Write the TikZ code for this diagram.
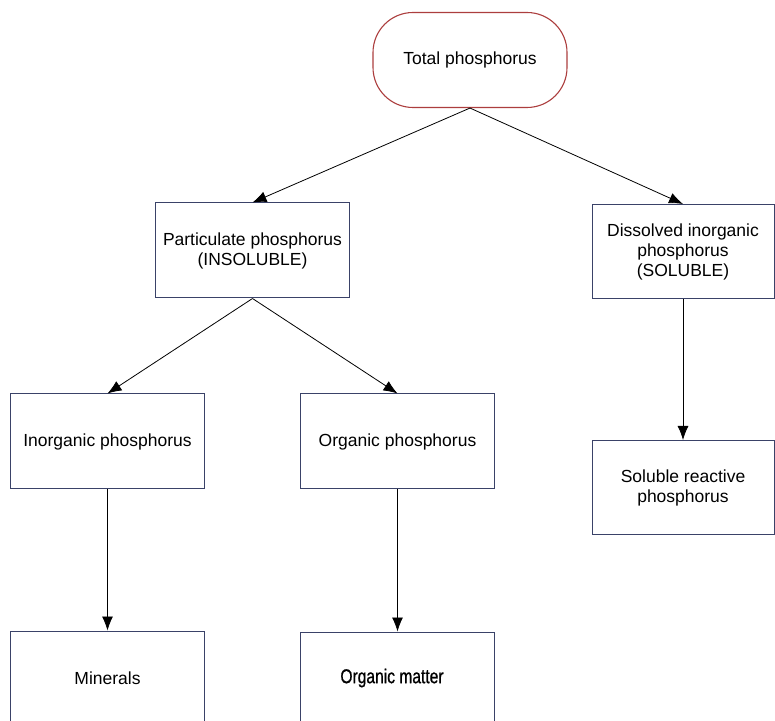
\documentclass[tikz,border=0pt]{standalone}
\usepackage{fontspec}
\setmainfont{Liberation Sans}
\newfontfamily\condfont{Liberation Sans}[FakeStretch=0.78,FakeBold=0.8]
\usetikzlibrary{arrows.meta}
\definecolor{boxline}{RGB}{58,66,104}
\definecolor{redline}{RGB}{172,62,62}
\begin{document}
\begin{tikzpicture}[x=1pt,y=1pt,
  every node/.style={font=\fontsize{17.5}{20}\selectfont, align=center, inner sep=0pt},
  pbox/.style={draw=boxline, line width=1pt, fill=white, minimum width=194pt, minimum height=95pt},
  rbox/.style={draw=boxline, line width=1pt, fill=white, minimum width=182pt, minimum height=94pt},
  startbox/.style={draw=redline, line width=1.1pt, fill=white, rounded corners=40pt, minimum width=194pt, minimum height=95pt},
  conn/.style={draw=black, line width=0.8pt, -{Latex[length=14pt,width=11pt]}}]
\useasboundingbox (0,0) rectangle (775,720);
\begin{scope}
\clip (0,0) rectangle (775,720);
\node[startbox] (total) at (470,660) {Total phosphorus};
\node[pbox] (part) at (252.5,469.5) {Particulate phosphorus\\(INSOLUBLE)};
\node[rbox] (diss) at (683,468.5) {Dissolved inorganic\\phosphorus\\(SOLUBLE)};
\node[pbox] (inorg) at (107.5,278.5) {Inorganic phosphorus};
\node[pbox] (org) at (397.5,278.5) {Organic phosphorus};
\node[rbox] (sol) at (683,232.5) {Soluble reactive\\phosphorus};
\node[pbox] (min) at (107.5,41.5) {Minerals};
\node[pbox] (orgm) at (397.5,40.5) {};
\node[font={\condfont\fontsize{20}{22}\selectfont}] (orgmt) at (392,42) {Organic matter};
\draw[conn] (total.south) -- (part.north);
\draw[conn] (total.south) -- (diss.north);
\draw[conn] (part.south) -- (inorg.north);
\draw[conn] (part.south) -- (org.north);
\draw[conn] (diss.south) -- (sol.north);
\draw[conn] (inorg.south) -- (min.north);
\draw[conn] (org.south) -- (orgm.north);
\end{scope}
\end{tikzpicture}
\end{document}
